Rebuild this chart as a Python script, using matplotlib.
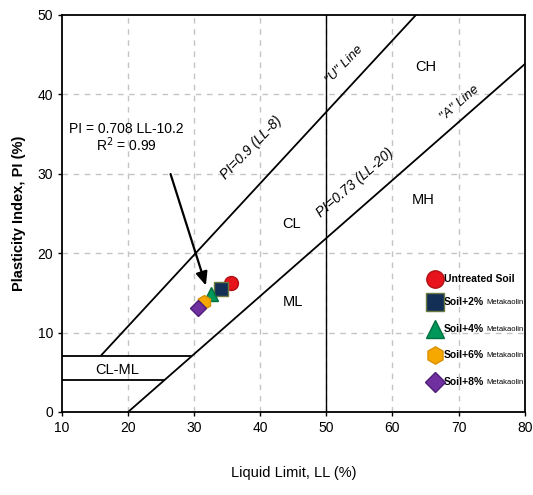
import matplotlib
matplotlib.use("Agg")
import matplotlib.pyplot as plt
import numpy as np

plt.rcParams['font.family'] = ['Liberation Sans', 'DejaVu Sans']

# data
samples = ["Untreated Soil", "Soil+2%", "Soil+4%", "Soil+6%", "Soil+8%"]
ll = [35.5, 34.1, 32.6, 31.5, 30.6]
pi = [16.2, 15.5, 14.9, 13.9, 13.1]
markers = ["o", "s", "^", "h", "D"]
colors = ["#E8141B", "#142F55", "#00975A", "#F6A800", "#7030A0"]
edges = ["#B01015", "#6B7A40", "#00703F", "#D89000", "#4E1F78"]
xticks = [10, 20, 30, 40, 50, 60, 70, 80]
yticks = [0, 10, 20, 30, 40, 50]

fig = plt.figure(figsize=(5.33, 4.95), dpi=100)
ax = fig.add_axes([0.1163, 0.1677, 0.868, 0.802])
ax.set_xlim(10, 80)
ax.set_ylim(0, 50)
ax.set_xticks(xticks)
ax.set_yticks(yticks)
ax.tick_params(labelsize=10, length=3, width=1)
for s in ax.spines.values():
    s.set_linewidth(1.3)

for x in xticks[1:-1]:
    ax.axvline(x, color="#C4C4C4", lw=1, ls=(0, (4, 4)), zorder=0)
for y in yticks[1:-1]:
    ax.axhline(y, color="#C4C4C4", lw=1, ls=(0, (4, 4)), zorder=0)

# chart lines
ax.plot([50, 50], [0, 50], color="black", lw=1)
xa = np.array([20, 80])
ax.plot(xa, 0.73 * (xa - 20), color="black", lw=1.3)
xu = np.array([16, 8 + 50 / 0.9])
ax.plot(xu, 0.9 * (xu - 8), color="black", lw=1.3)
ax.plot([10, 20 + 7 / 0.73], [7, 7], color="black", lw=1.3)
ax.plot([10, 20 + 4 / 0.73], [4, 4], color="black", lw=1.3)

# zone labels
for t, x, y in [("CH", 65, 43.4), ("MH", 64.7, 26.7), ("CL", 44.8, 23.7),
                ("ML", 45, 13.9), ("CL-ML", 18.3, 5.3)]:
    ax.text(x, y, t, ha="center", va="center", fontsize=10.5)
ax.text(52.7, 43.7, '"U" Line', rotation=46, ha="center", va="center",
        fontsize=9.5, style="italic")
ax.text(70.2, 38.9, '"A" Line', rotation=41, ha="center", va="center",
        fontsize=9.5, style="italic")
ax.text(38.6, 33.3, "PI=0.9 (LL-8)", rotation=46, ha="center", va="center",
        fontsize=10, style="italic")
ax.text(54.3, 28.9, "PI=0.73 (LL-20)", rotation=41, ha="center", va="center",
        fontsize=10, style="italic")

ax.text(19.8, 34.5, "PI = 0.708 LL-10.2\nR$^2$ = 0.99", ha="center", va="center",
        fontsize=10, linespacing=1.0)
ax.annotate("", xy=(31.9, 15.6), xytext=(26.3, 30.3),
            arrowprops=dict(arrowstyle="-|>,head_length=0.8,head_width=0.35",
                            color="black", lw=1.6))

# data points
for i in range(len(ll)):
    ax.plot(ll[i], pi[i], marker=markers[i], color=colors[i], mec=edges[i],
            mew=1, ms=10 if markers[i] != "D" else 8, ls="none", zorder=5)

# legend (manual)
ly = [16.8, 13.8, 10.4, 7.2, 3.8]
for i in range(len(ll)):
    ax.plot(66.5, ly[i], marker=markers[i], color=colors[i], mec=edges[i],
            mew=1, ms=12.5 if markers[i] != "D" else 10.5, ls="none", zorder=6,
            clip_on=False)
    tt = ax.text(67.8, ly[i], samples[i], ha="left", va="center", fontsize=7.5,
                 fontweight="bold")
    if i > 0:
        ax.annotate("Metakaolin", xycoords=tt, xy=(1.05, 0.1), va="bottom",
                    ha="left", fontsize=5.5)

ax.set_ylabel("Plasticity Index, PI (%)", fontsize=10.5, fontweight="bold",
              labelpad=8)
ax.set_xlabel("Liquid Limit, LL (%)", fontsize=10.5, labelpad=22)

fig.savefig("out.png", dpi=100)
